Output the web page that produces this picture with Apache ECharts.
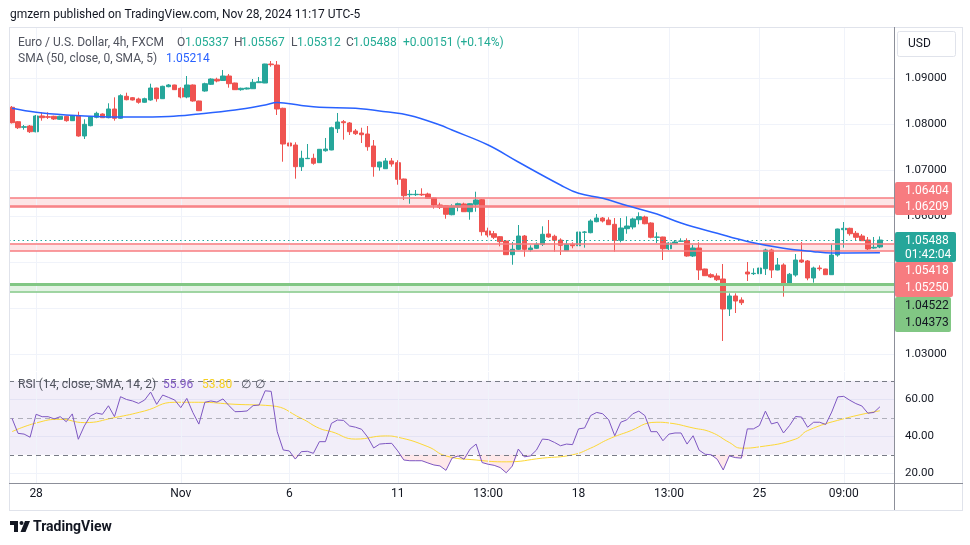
<!DOCTYPE html>
<html><head><meta charset="utf-8">
<script src="https://cdn.jsdelivr.net/npm/echarts@6/dist/echarts.min.js"></script>
<style>html,body{margin:0;padding:0;background:#fff;}#c{width:970px;height:545px;}</style>
</head><body><div id="c"></div>
<script>
// ---------- data ----------
const tickIdx  = [4, 28, 46, 64, 79, 94, 109, 124, 138];
const tickText = ['28', 'Nov', '6', '11', '13:00', '18', '13:00', '25', '09:00'];
const priceTicks = [1.03, 1.04, 1.05, 1.06, 1.07, 1.08, 1.09];
const rsiTicks = [20, 40, 60];
const rsiLevels = [70, 50, 30];

// one row per 4h candle: [open, high, low, close]
const ohlc = [
[1.08374,1.08402,1.08022,1.08039],[1.08061,1.08076,1.07902,1.07930],[1.07939,1.07989,1.07887,1.07952],[1.07967,1.07989,1.07815,1.07843],
[1.07843,1.08207,1.07830,1.08185],[1.08185,1.08265,1.08083,1.08148],[1.08170,1.08265,1.08120,1.08157],[1.08178,1.08191,1.08098,1.08120],
[1.08113,1.08191,1.08098,1.08178],[1.08178,1.08191,1.08061,1.08083],[1.08083,1.08207,1.08076,1.08191],[1.08191,1.08278,1.07735,1.07750],
[1.07750,1.08113,1.07685,1.08004],[1.07974,1.08185,1.07961,1.08170],[1.08157,1.08278,1.08135,1.08243],[1.08228,1.08243,1.08141,1.08148],
[1.08148,1.08461,1.08135,1.08337],[1.08337,1.08591,1.08083,1.08135],[1.08135,1.08657,1.08120,1.08626],[1.08613,1.08691,1.08526,1.08539],
[1.08583,1.08598,1.08522,1.08533],[1.08554,1.08583,1.08452,1.08483],[1.08483,1.08583,1.08474,1.08561],[1.08533,1.08887,1.08517,1.08793],
[1.08793,1.08800,1.08496,1.08561],[1.08561,1.08843,1.08554,1.08830],[1.08822,1.08880,1.08809,1.08859],[1.08859,1.08865,1.08750,1.08757],
[1.08787,1.08809,1.08570,1.08598],[1.08598,1.09054,1.08570,1.08859],[1.08859,1.08870,1.08496,1.08511],[1.08511,1.08517,1.08293,1.08300],
[1.08728,1.08909,1.08713,1.08887],[1.08874,1.09004,1.08859,1.08989],[1.08983,1.09017,1.08917,1.08946],[1.08957,1.09185,1.08946,1.09054],
[1.09054,1.09098,1.08800,1.08887],[1.08902,1.08909,1.08750,1.08757],[1.08757,1.08800,1.08735,1.08787],[1.08772,1.08804,1.08761,1.08793],
[1.08778,1.08989,1.08772,1.08917],[1.08909,1.09033,1.08902,1.08930],[1.08902,1.09320,1.08900,1.09315],[1.09315,1.09380,1.09257,1.09300],
[1.09293,1.09380,1.08207,1.08337],[1.08352,1.08365,1.07191,1.07576],[1.07598,1.07809,1.07011,1.07533],[1.07554,1.07613,1.06822,1.07083],
[1.07083,1.07430,1.06989,1.07265],[1.07257,1.07576,1.07250,1.07265],[1.07265,1.07365,1.07126,1.07157],[1.07170,1.07467,1.07163,1.07461],
[1.07430,1.07707,1.07409,1.07467],[1.07446,1.07952,1.07440,1.07930],[1.07909,1.08250,1.07815,1.08054],[1.08061,1.08098,1.07670,1.08039],
[1.08033,1.08054,1.07772,1.07843],[1.07859,1.07902,1.07772,1.07800],[1.07815,1.07930,1.07598,1.07778],[1.07793,1.07967,1.07430,1.07517],
[1.07533,1.07663,1.06865,1.07083],[1.07076,1.07191,1.06996,1.07185],[1.07039,1.07272,1.07033,1.07207],[1.07207,1.07272,1.07083,1.07141],
[1.07170,1.07222,1.06691,1.06809],[1.06815,1.06822,1.06359,1.06452],[1.06474,1.06576,1.06278,1.06483],[1.06474,1.06576,1.06446,1.06483],
[1.06483,1.06613,1.06446,1.06470],[1.06489,1.06517,1.06387,1.06396],[1.06402,1.06409,1.06170,1.06250],[1.06250,1.06300,1.06163,1.06200],
[1.06235,1.06250,1.05952,1.06048],[1.06039,1.06265,1.06026,1.06228],[1.06207,1.06300,1.06113,1.06278],[1.06272,1.06300,1.06100,1.06104],
[1.06104,1.06287,1.05930,1.06278],[1.06265,1.06539,1.06104,1.06359],[1.06365,1.06380,1.05583,1.05670],[1.05685,1.05757,1.05548,1.05598],
[1.05626,1.05685,1.05511,1.05548],[1.05561,1.05576,1.05352,1.05452],[1.05467,1.05489,1.05163,1.05170],[1.05170,1.05446,1.04952,1.05287],
[1.05287,1.05815,1.05272,1.05576],[1.05576,1.05598,1.05126,1.05287],[1.05278,1.05374,1.05235,1.05315],[1.05309,1.05439,1.05293,1.05396],
[1.05396,1.05787,1.05359,1.05613],[1.05620,1.05924,1.05539,1.05554],[1.05570,1.05604,1.05235,1.05483],[1.05489,1.05526,1.05163,1.05374],
[1.05257,1.05489,1.05250,1.05396],[1.05396,1.05439,1.05309,1.05365],[1.05365,1.05707,1.05359,1.05663],[1.05657,1.05685,1.05322,1.05663],
[1.05648,1.05939,1.05635,1.05902],[1.05887,1.06054,1.05874,1.05967],[1.05967,1.05989,1.05870,1.05902],[1.05924,1.05983,1.05820,1.05822],
[1.05830,1.05967,1.05235,1.05483],[1.05483,1.05967,1.05439,1.05750],[1.05735,1.06004,1.05626,1.05793],[1.05772,1.05974,1.05722,1.05946],
[1.05930,1.06091,1.05830,1.05996],[1.05989,1.06017,1.05830,1.05843],[1.05859,1.05874,1.05526,1.05548],[1.05548,1.05657,1.05424,1.05554],
[1.05554,1.05560,1.05054,1.05300],[1.05300,1.05439,1.05272,1.05424],[1.05409,1.05489,1.05402,1.05446],[1.05461,1.05526,1.05452,1.05467],
[1.05474,1.05526,1.05126,1.05141],[1.05141,1.05380,1.05120,1.05315],[1.05315,1.05439,1.04620,1.04837],[1.04859,1.04865,1.04707,1.04713],
[1.04735,1.04765,1.04663,1.04685],[1.04707,1.04765,1.04598,1.04626],[1.04641,1.04967,1.03294,1.03989],[1.03989,1.04330,1.03837,1.04272],
[1.04272,1.04330,1.03902,1.04163],[1.04185,1.04243,1.04076,1.04126],[1.04793,1.05011,1.04598,1.04750],[1.04757,1.04874,1.04728,1.04765],
[1.04757,1.04961,1.04474,1.04880],[1.04865,1.05300,1.04728,1.05272],[1.05272,1.05300,1.04663,1.04837],[1.04837,1.05098,1.04830,1.04946],
[1.04946,1.04983,1.04257,1.04511],[1.04511,1.04772,1.04489,1.04744],[1.04728,1.05185,1.04691,1.05054],[1.05054,1.05446,1.04989,1.05011],
[1.05033,1.05054,1.04613,1.04663],[1.04663,1.04909,1.04561,1.04880],[1.04880,1.04939,1.04822,1.04865],[1.04859,1.04865,1.04728,1.04735],
[1.04735,1.05396,1.04728,1.05163],[1.05163,1.05735,1.05126,1.05728],[1.05713,1.05880,1.05322,1.05743],[1.05743,1.05757,1.05583,1.05626],
[1.05635,1.05685,1.05489,1.05548],[1.05576,1.05620,1.05467,1.05474],[1.05489,1.05554,1.05272,1.05294],[1.05315,1.05554,1.05300,1.05330],
[1.05337,1.05567,1.05312,1.05488]
];

// SMA(50) line, read at points [candle index, value]
const smaPts = [[0,1.08352],[4,1.08265],[9,1.08207],[15,1.08170],[20,1.08163],[26,1.08174],[31,1.08228],[37,1.08315],[42,1.08424],[44,1.08478],
[48,1.08413],[51,1.08374],[57,1.08352],[62,1.08278],[66,1.08196],[71,1.07989],[73,1.07880],[79,1.07554],[84,1.07185],[91,1.06685],[94,1.06504],
[98,1.06396],[102,1.06239],[107,1.06054],[111,1.05859],[117,1.05635],[122,1.05457],[128,1.05309],[133,1.05235],[136,1.05207],[144,1.05214]];

// RSI(14), one value per candle
const rsiVals = [49.7,41.6,41.2,39.5,51.9,50.6,50.6,49.4,50.6,47.9,
52.1,38.4,45.6,51.0,52.6,51.9,56.5,50.6,61.4,59.9,
59.1,57.8,59.6,63.9,57.3,62.3,61.0,59.6,55.5,60.5,
52.9,46.6,58.4,59.1,58.5,60.2,56.6,53.3,53.4,53.7,
56.6,56.9,64.6,64.3,42.5,32.6,32.1,27.7,31.7,31.9,
30.8,37.1,37.1,47.0,48.8,48.6,45.6,44.9,43.8,39.6,
33.7,35.8,36.1,36.2,32.1,27.2,26.8,26.8,26.8,25.6,
24.5,24.0,21.6,28.2,29.4,27.6,33.1,35.8,25.8,24.9,
24.3,23.1,20.3,23.9,33.1,28.9,29.4,32.5,38.5,38.2,
36.7,34.9,35.8,35.5,44.0,44.5,51.2,52.9,52.2,48.9,
40.3,47.6,48.9,52.2,53.6,51.2,42.5,42.5,37.6,41.2,
41.8,41.8,35.8,40.3,32.5,30.3,30.0,27.6,21.8,29.4,
28.5,28.2,44.0,44.0,45.8,53.6,46.7,47.6,41.8,45.8,
50.7,50.4,44.9,47.6,47.6,46.4,53.1,61.3,61.6,59.5,
57.7,56.4,52.5,52.9,55.96];

// RSI-based SMA(14), read at points [candle index, value]
const rsiSmaPts = [[0,42.5],[4,47.2],[8,49.2],[12,47.4],[17,50.1],[22,53.7],[27,58.4],[31,58.4],[37,57.3],[43,56.5],[48,49.7],[51,44.3],
[53,42.5],[57,38.5],[62,40.2],[64,39.5],[69,34.4],[72,29.4],[77,27.2],[82,26.2],[88,28.2],[93,30.0],[96,33.6],[99,38.5],[102,42.2],
[107,47.6],[109,47.2],[113,44.5],[116,42.2],[119,36.7],[121,33.6],[124,34.3],[130,38.5],[132,43.1],[138,49.5],[144,53.8]];

// drawn levels
const redZone1 = [1.06404, 1.06235, 1.06209];
const redZone2 = [1.05418, 1.05250];
const greenZone = [1.04522, 1.04373];
const lastClose = 1.05488;

// texts
const headerText = 'gmzern published on TradingView.com, Nov 28, 2024 11:17 UTC-5';
const symbolText = 'Euro / U.S. Dollar, 4h, FXCM';
const ohlcLabels = ['O', 'H', 'L', 'C'];
const ohlcValues = ['1.05337', '1.05567', '1.05312', '1.05488'];
const changeText = '+0.00151 (+0.14%)';
const smaLegend = 'SMA (50, close, 0, SMA, 5)';
const smaValue = '1.05214';
const rsiLegend = 'RSI (14, close, SMA, 14, 2)';
const rsiValue = '55.96';
const rsiSmaValue = '53.80';
const countdown = '01:42:04';

// ---------- chart ----------
const N = 147; // 145 candles + 2 empty slots on the right
const cats = Array.from({length: N}, (_, i) => String(i));
const candleData = ohlc.map(r => [r[0], r[3], r[2], r[1]]);
const rsiClamp = rsiVals.map(v => Math.min(v, 30));
const rsiGap = rsiClamp.map(v => 30 - v);

const FONT = 'Roboto, "Noto Sans", Arial, sans-serif';
const UP = '#26a69a', DOWN = '#ef5350', TEAL = '#22ab94';
const GRID_C = '#f0f3fa';
const LEG = '#50535e';

const chart = echarts.init(document.getElementById('c'));

function T(x, y, text, fill, size, weight) {
  return {type: 'text', x: x, y: y, z: 100,
    style: {text: text, fill: fill, font: (weight || 'normal') + ' ' + size + 'px ' + FONT, align: 'left', verticalAlign: 'middle'}};
}
function R(x, y, w, h, fill, stroke) {
  return {type: 'rect', z: 99, shape: {x: x, y: y, width: w, height: h, r: 2},
    style: {fill: fill, stroke: stroke || null, lineWidth: stroke ? 1 : 0}};
}
function L(x1, y1, x2, y2, color) {
  return {type: 'line', z: 98, shape: {x1: x1, y1: y1, x2: x2, y2: y2}, style: {stroke: color, lineWidth: 1}};
}

const graphics = [
  T(10, 15, headerText, '#131722', 12),
  L(9, 27.5, 963, 27.5, '#e0e3eb'),
  L(9.5, 27, 9.5, 510, '#e0e3eb'),
  L(962.5, 27, 962.5, 510, '#e0e3eb'),
  L(9, 510.5, 963, 510.5, '#e0e3eb'),
  L(894.5, 27, 894.5, 510, '#8c8f99'),
  L(9, 483.5, 963, 483.5, '#8c8f99'),
  T(18, 42.5, symbolText, LEG, 12),
  T(177, 42.5, ohlcLabels[0], LEG, 12), T(185, 42.5, ohlcValues[0], TEAL, 12),
  T(234, 42.5, ohlcLabels[1], LEG, 12), T(241, 42.5, ohlcValues[1], TEAL, 12),
  T(291, 42.5, ohlcLabels[2], LEG, 12), T(297, 42.5, ohlcValues[2], TEAL, 12),
  T(346, 42.5, ohlcLabels[3], LEG, 12), T(353, 42.5, ohlcValues[3], TEAL, 12),
  T(403, 42.5, changeText, TEAL, 12),
  T(18, 59, smaLegend, LEG, 12), T(166, 59, smaValue, '#2962ff', 12),
  T(18, 385, rsiLegend, LEG, 12), T(163, 385, rsiValue, '#7e57c2', 12),
  T(202, 385, rsiSmaValue, '#f5d020', 12), T(241, 385, '\u2205', LEG, 12), T(255, 385, '\u2205', LEG, 12),
  R(897.5, 31.5, 58, 25, '#ffffff', '#e0e3eb'),
  T(908, 44, 'USD', '#131722', 12),
  R(895, 182, 57, 33, '#f77c80'),
  T(905, 190.5, redZone1[0].toFixed(5), '#ffffff', 12),
  T(905, 207, redZone1[2].toFixed(5), '#ffffff', 12),
  R(895, 232, 61, 30, UP),
  T(905, 240.5, lastClose.toFixed(5), '#ffffff', 12),
  T(905, 255, countdown, '#ffffff', 12),
  R(895, 262, 58, 35, '#f77c80'),
  T(905, 270.5, redZone2[0].toFixed(5), '#ffffff', 12),
  T(905, 287.5, redZone2[1].toFixed(5), '#ffffff', 12),
  R(895, 297, 56, 35, '#81c784'),
  T(905, 306, greenZone[0].toFixed(5), '#131722', 12),
  T(905, 322.5, greenZone[1].toFixed(5), '#131722', 12),
  // TradingView logo
  {type: 'rect', z: 100, shape: {x: 10, y: 521, width: 8, height: 4}, style: {fill: '#131722'}},
  {type: 'rect', z: 100, shape: {x: 14, y: 521, width: 4, height: 11}, style: {fill: '#131722'}},
  {type: 'circle', z: 100, shape: {cx: 21.5, cy: 523, r: 2}, style: {fill: '#131722'}},
  {type: 'polygon', z: 100, shape: {points: [[25, 521], [30, 521], [25.5, 532], [20.5, 532]]}, style: {fill: '#131722'}},
  T(33, 527, 'TradingView', '#131722', 14, 'bold')
];

const vLines = tickIdx.map(i => ({xAxis: i, lineStyle: {color: GRID_C, width: 1, type: 'solid'}}));

const option = {
  animation: false,
  backgroundColor: '#ffffff',
  textStyle: {fontFamily: FONT},
  grid: [
    {left: 9, top: 28, width: 886, height: 343},
    {left: 9, top: 372, width: 886, height: 111}
  ],
  xAxis: [
    {type: 'category', gridIndex: 0, data: cats, boundaryGap: true,
     axisLine: {show: false}, axisTick: {show: false}, axisLabel: {show: false}, splitLine: {show: false}},
    {type: 'category', gridIndex: 1, data: cats, boundaryGap: true,
     axisLine: {show: false}, axisTick: {show: false}, splitLine: {show: false},
     axisLabel: {show: true, interval: (i) => tickIdx.indexOf(i) >= 0,
       formatter: (v, i) => { const k = tickIdx.indexOf(i); return k >= 0 ? tickText[k] : ''; },
       color: '#131722', fontSize: 12, margin: 5, fontFamily: FONT}}
  ],
  yAxis: [
    {type: 'value', gridIndex: 0, position: 'right', min: 1.026413, max: 1.100978,
     axisLine: {show: false}, axisTick: {show: false, customValues: priceTicks},
     axisLabel: {customValues: priceTicks, formatter: v => v.toFixed(5), color: '#131722', fontSize: 11.5, margin: 10, fontFamily: FONT},
     splitLine: {show: true, lineStyle: {color: GRID_C, width: 1}}},
    {type: 'value', gridIndex: 1, position: 'right', min: 14.76, max: 74.76,
     axisLine: {show: false}, axisTick: {show: false, customValues: rsiTicks},
     axisLabel: {customValues: rsiTicks, formatter: v => v.toFixed(2), color: '#131722', fontSize: 11.5, margin: 10, fontFamily: FONT},
     splitLine: {show: true, lineStyle: {color: GRID_C, width: 1}}}
  ],
  series: [
    {name: 'levels', type: 'line', xAxisIndex: 0, yAxisIndex: 0, data: [], z: 1, silent: true,
     markArea: {silent: true, data: [
       [{yAxis: redZone1[0], itemStyle: {color: 'rgba(247,124,128,0.2)'}}, {yAxis: redZone1[1]}],
       [{yAxis: redZone2[0], itemStyle: {color: 'rgba(247,124,128,0.2)'}}, {yAxis: redZone2[1]}],
       [{yAxis: greenZone[0], itemStyle: {color: 'rgba(129,199,132,0.22)'}}, {yAxis: greenZone[1]}]
     ]},
     markLine: {silent: true, precision: 6, symbol: ['none', 'none'], label: {show: false}, data: vLines.concat([
       {yAxis: redZone1[0], lineStyle: {color: '#f77c80', width: 1.5, type: 'solid'}},
       {yAxis: redZone1[1], lineStyle: {color: '#f77c80', width: 1.5, type: 'solid'}},
       {yAxis: redZone1[2], lineStyle: {color: '#f77c80', width: 1.5, type: 'solid'}},
       {yAxis: redZone2[0], lineStyle: {color: '#f77c80', width: 1.5, type: 'solid'}},
       {yAxis: redZone2[1], lineStyle: {color: '#f77c80', width: 1.5, type: 'solid'}},
       {yAxis: greenZone[0], lineStyle: {color: '#81c784', width: 3, type: 'solid'}},
       {yAxis: greenZone[1], lineStyle: {color: '#81c784', width: 1.5, type: 'solid'}},
       {yAxis: lastClose, lineStyle: {color: UP, width: 1, type: [1.5, 3]}}
     ])}},
    {name: 'EURUSD', type: 'candlestick', xAxisIndex: 0, yAxisIndex: 0, data: candleData, barWidth: 5, z: 3,
     itemStyle: {color: UP, color0: DOWN, borderColor: UP, borderColor0: DOWN, borderWidth: 1}},
    {name: 'SMA', type: 'line', xAxisIndex: 0, yAxisIndex: 0, data: smaPts, smooth: 0.4, showSymbol: false,
     lineStyle: {color: '#2962ff', width: 1.5}, z: 5, silent: true},
    {name: 'rsiGrid', type: 'line', xAxisIndex: 1, yAxisIndex: 1, data: [], z: 1, silent: true,
     markArea: {silent: true, itemStyle: {color: 'rgba(126,87,194,0.1)'}, data: [[{yAxis: rsiLevels[0]}, {yAxis: rsiLevels[2]}]]},
     markLine: {silent: true, precision: 4, symbol: ['none', 'none'], label: {show: false}, data: vLines.concat([
       {yAxis: rsiLevels[0], lineStyle: {color: '#787b86', width: 1, type: [5, 4]}},
       {yAxis: rsiLevels[1], lineStyle: {color: 'rgba(120,123,134,0.55)', width: 1, type: [5, 4]}},
       {yAxis: rsiLevels[2], lineStyle: {color: '#787b86', width: 1, type: [5, 4]}}
     ])}},
    {name: 'osBase', type: 'line', xAxisIndex: 1, yAxisIndex: 1, data: rsiClamp, stack: 'os', showSymbol: false,
     lineStyle: {opacity: 0}, z: 2, silent: true},
    {name: 'osFill', type: 'line', xAxisIndex: 1, yAxisIndex: 1, data: rsiGap, stack: 'os', showSymbol: false,
     lineStyle: {opacity: 0}, areaStyle: {color: 'rgba(242,54,69,0.16)'}, z: 2, silent: true},
    {name: 'RSI SMA', type: 'line', xAxisIndex: 1, yAxisIndex: 1, data: rsiSmaPts, smooth: 0.5, showSymbol: false,
     lineStyle: {color: '#fdd835', width: 1}, z: 4, silent: true},
    {name: 'RSI', type: 'line', xAxisIndex: 1, yAxisIndex: 1, data: rsiVals, showSymbol: false,
     lineStyle: {color: '#7e57c2', width: 1}, z: 5, silent: true}
  ],
  graphic: graphics
};
chart.setOption(option);
</script>
</body></html>
